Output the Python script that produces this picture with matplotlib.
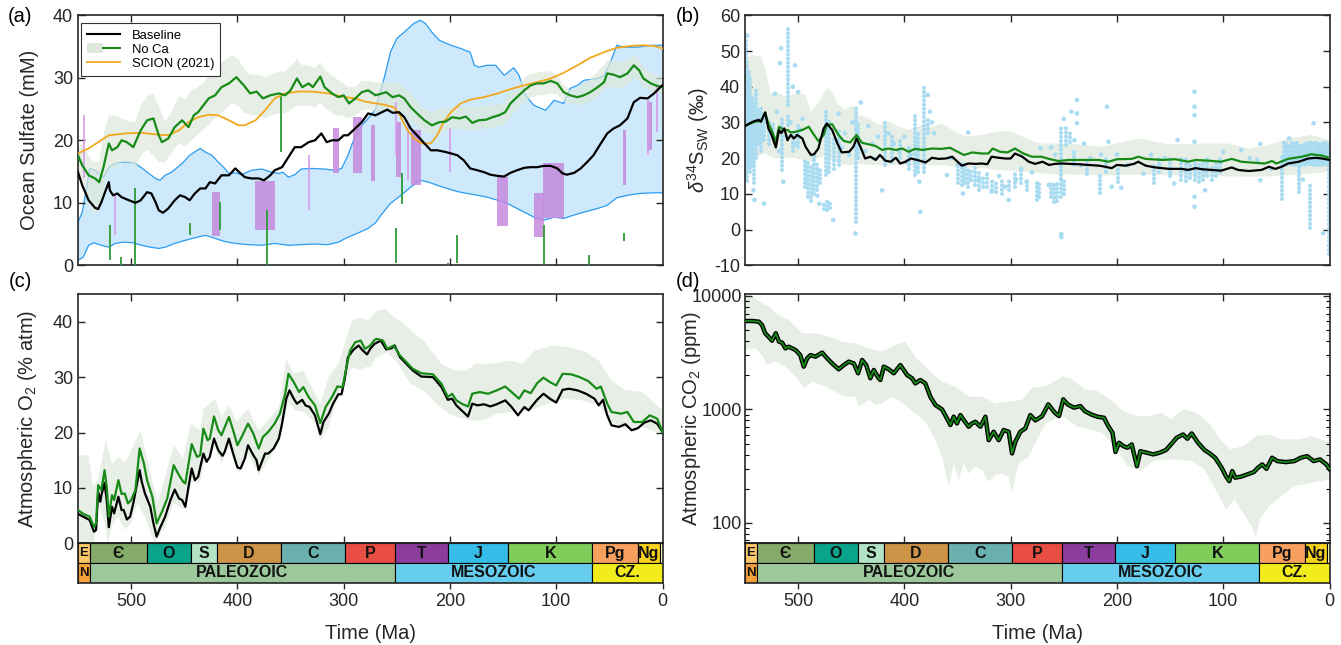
import numpy as np
import matplotlib
matplotlib.use('Agg')
import matplotlib.pyplot as plt
from matplotlib.patches import Rectangle, Patch
from matplotlib.lines import Line2D
from matplotlib.legend_handler import HandlerTuple

plt.rcParams['font.family'] = ['Liberation Sans', 'DejaVu Sans']
plt.rcParams['mathtext.fontset'] = 'custom'
plt.rcParams['mathtext.rm'] = 'Liberation Sans'
plt.rcParams['mathtext.it'] = 'Liberation Sans:italic'
plt.rcParams['axes.unicode_minus'] = False

# ---------------- (a) Ocean sulfate ----------------
sulf_base_age = [550,546,540,534,531,528,525,521,520,517,513,509,502,496,491,485,481,477,474,470,465,459,454,449,445,440,435,430,426,421,415,408,402,397,393,387,380,375,369,365,358,352,346,340,333,327,321,316,311,305,300,296,291,283,277,270,264,259,254,248,243,237,231,224,218,212,206,199,193,187,181,174,168,162,155,149,143,137,130,124,118,112,105,99,94,90,83,77,71,65,58,52,46,40,33,27,21,14,8,2,0]
sulf_base = [14.9,12.8,10.4,9.2,9.0,10.1,11.5,13.3,12.0,11.2,11.5,10.9,10.4,10.0,10.4,11.7,11.5,10.1,8.8,8.4,9.1,10.4,11.2,10.9,10.4,11.5,12.3,12.3,13.3,13.1,14.4,14.4,15.5,14.7,14.1,13.9,13.9,13.6,14.4,15.2,15.7,17.3,18.9,18.9,19.7,20.0,21.1,19.7,20.0,20.0,20.8,20.8,21.6,22.9,24.3,24.0,24.5,24.9,24.4,24.5,23.7,21.9,20.8,19.5,18.4,18.4,18.2,17.9,17.6,16.8,15.5,15.2,14.9,14.5,14.3,14.2,14.8,15.2,15.6,15.7,15.7,15.9,15.9,15.5,14.7,14.5,14.8,15.5,16.5,17.6,19.5,21.1,21.9,22.4,23.5,26.1,26.8,26.7,27.5,28.5,28.8]

sulf_noca_age = [550,546,540,534,530,526,521,518,513,509,504,498,491,485,479,474,471,465,459,452,446,441,437,432,427,421,415,408,401,394,388,382,376,369,361,355,350,344,339,333,329,322,318,311,305,300,295,289,283,277,270,260,254,248,243,237,231,224,217,210,204,198,191,185,179,173,166,160,154,148,143,137,130,124,118,112,105,99,93,87,80,74,68,61,55,52,46,40,33,27,22,18,11,5,0]
sulf_noca = [17.6,16.0,14.4,13.9,13.3,15.7,19.5,18.4,18.9,20.0,19.7,18.9,21.6,23.2,23.5,20.8,19.7,20.3,22.1,23.2,22.1,24.0,24.5,25.6,26.7,27.2,28.5,29.1,30.1,28.8,27.5,27.8,26.7,27.2,27.5,27.2,28.0,29.9,28.5,29.1,28.5,30.2,28.5,27.5,26.9,27.2,25.9,26.7,27.7,28.0,27.2,27.7,26.9,27.2,26.7,25.3,24.3,23.2,22.4,22.9,23.0,23.7,23.5,23.8,22.8,23.2,23.3,23.7,24.0,24.5,25.9,26.9,28.0,28.8,29.1,29.1,29.5,29.1,27.7,27.2,26.9,27.2,27.7,28.5,29.3,30.7,30.5,30.1,30.7,32.0,31.2,29.9,29.1,28.7,28.5]

noca_band_age = [550,546,540,535,530,526,521,515,509,502,496,491,485,479,474,468,462,455,449,443,437,430,424,418,411,405,399,394,388,380,374,368,361,355,349,344,339,333,327,322,316,308,302,296,289,283,277,270,260,250,243,237,230,224,217,210,200,190,180,170,160,150,143,136,130,124,118,112,105,99,93,87,80,74,68,61,55,52,46,40,33,27,22,18,11,5,0]
noca_band_hi = [19.0,19.5,17.5,16.5,16.5,21.0,24.0,24.0,23.5,23.0,23.0,25.5,27.0,27.5,25.5,23.0,24.5,27.0,26.5,28.0,28.5,29.5,31.0,32.0,33.0,33.6,33.0,31.5,30.5,30.5,30.0,30.5,31.0,31.0,32.0,33.0,32.0,32.0,31.5,32.5,31.0,30.0,29.3,28.5,28.5,29.5,29.5,29.3,29.3,29.3,28.5,27.5,26.0,25.0,24.5,25.0,25.3,25.6,25.3,25.5,25.6,26.0,27.5,29.0,30.0,30.6,30.9,31.0,31.0,30.3,28.8,28.0,28.3,29.0,29.8,31.0,32.0,32.8,32.8,32.5,33.0,33.6,33.0,31.8,30.8,30.4,30.4]
noca_band_lo = [14.5,12.5,10.0,8.0,9.5,12.0,15.5,15.5,16.5,16.5,15.5,17.5,18.5,17.5,16.5,16.5,18.0,19.5,19.0,20.0,21.0,22.0,23.0,24.0,25.0,26.0,25.5,24.5,24.0,24.0,23.5,24.0,24.3,24.3,25.0,25.6,25.5,25.5,25.3,26.0,25.0,24.0,24.0,23.5,24.0,24.8,25.0,24.5,24.8,24.5,24.3,23.0,22.0,21.3,20.8,21.0,21.8,21.8,21.5,21.8,22.0,22.4,23.8,25.0,26.0,26.8,27.2,27.2,27.5,27.3,26.3,25.9,25.6,25.8,26.2,27.0,28.0,28.5,28.5,28.3,28.8,30.0,29.4,28.5,27.8,27.5,27.5]

scion_age = [550,540,531,521,505,490,474,465,455,446,437,427,418,408,399,393,383,374,365,355,343,330,314,302,289,280,270,262,253,247,241,234,226,218,212,206,199,190,181,168,155,143,130,118,105,93,80,68,55,43,30,18,8,0]
scion = [17.9,18.7,19.7,20.8,21.1,21.2,20.9,20.8,21.6,22.9,23.7,24.1,24.0,23.2,22.4,22.4,23.2,24.8,26.7,27.5,27.8,27.8,27.5,27.0,26.7,26.2,25.9,25.7,25.3,24.0,21.9,20.3,19.5,19.5,20.8,22.9,24.5,25.9,26.5,26.9,27.5,28.2,28.8,29.3,29.9,30.8,32.0,33.2,34.1,34.8,35.1,35.2,35.1,34.7]

proxy_hi_age = [550,546,542,539,534,526,521,515,509,502,496,491,485,477,473,468,462,452,445,435,430,424,418,413,408,402,396,387,377,368,361,357,352,346,340,330,318,308,302,296,289,283,277,270,262,256,250,243,234,228,223,217,210,199,190,181,177,173,165,157,149,140,135,129,121,110,102,93,87,80,74,61,55,49,43,36,24,11,0]
proxy_hi = [6.9,8.5,12.3,15.5,15.2,14.1,15.7,16.3,16.5,16.5,16.3,15.7,14.9,13.9,13.6,14.4,14.9,16.3,17.6,18.7,18.1,17.6,16.5,15.7,14.7,14.8,14.5,15.2,15.4,14.9,14.7,14.9,14.1,14.5,15.4,15.5,15.4,15.2,15.5,17.6,20.8,22.4,23.5,25.0,29.9,34.1,36.3,37.3,38.7,39.2,38.7,37.3,36.0,35.2,34.7,34.1,32.0,31.7,32.0,32.0,30.4,31.6,30.4,27.2,25.6,24.8,26.4,25.9,28.3,28.8,29.6,29.9,30.4,32.5,35.2,34.9,34.9,35.2,35.2]
proxy_lo_age = [550,545,540,535,528,521,515,507,498,490,482,474,468,459,449,440,430,421,412,402,390,377,365,352,340,327,315,305,296,286,277,270,265,256,246,237,228,220,212,203,193,184,174,165,155,146,137,130,121,112,102,93,84,74,61,52,43,33,21,8,0]
proxy_lo = [0.8,1.3,3.2,3.6,3.2,2.9,3.5,3.7,3.6,3.2,2.9,2.7,2.9,3.5,4.0,4.4,4.8,4.3,3.8,3.5,3.3,3.2,3.5,3.2,3.3,3.4,3.3,3.7,4.5,5.2,5.9,6.8,8.0,9.9,11.2,12.5,13.6,13.3,12.8,12.3,11.8,11.5,11.2,10.9,10.4,9.9,9.1,8.5,7.7,7.2,7.7,7.5,8.0,8.5,9.1,9.6,10.8,11.2,11.5,11.6,11.6]

fi_old = [423.5,383.4,309.7,291.0,274.6,251.0,237.0,156.0,121.0,112.5,37.0,14.4]
fi_young = [416.3,364.6,304.4,282.5,270.8,246.0,227.6,145.0,111.6,92.8,34.0,9.7]
fi_lo = [4.7,5.7,14.8,14.8,13.5,14.1,12.9,6.3,4.5,7.6,12.9,18.4]
fi_hi = [11.8,13.5,21.9,23.7,22.4,23.0,21.7,14.1,11.5,16.3,21.7,26.1]
fi_thin_age = [544,515,333,251,239.5,200,14,5.6]
fi_thin_lo = [13.9,4.8,8.8,17.6,13.6,14.9,17.6,21.3]
fi_thin_hi = [24.0,11.2,17.6,26.1,22.4,21.9,26.4,29.0]
evap_age = [520,510,496,445,416,372,359,251,245,201.6,193,111.6,69.3,36.4]
evap_lo = [0.8,0.0,0.0,4.8,5.6,0.0,18.2,0.3,9.8,0.0,0.4,0.0,0.0,3.9]
evap_hi = [6.4,1.3,12.3,6.8,10.1,8.8,27.2,5.9,14.8,0.4,4.8,6.5,1.6,5.2]

# ---------------- (b) d34S ----------------
d34_base_age = [550,546,541,537,535,531,528,525,521,518,516,513,510,507,504,501,496,493,488,485,481,476,473,468,463,459,452,448,445,441,437,432,427,423,418,413,408,404,399,394,388,380,374,368,361,355,350,346,340,333,327,322,318,311,305,300,296,289,283,277,270,264,258,252,245,236,227,217,211,205,200,192,184,180,173,164,151,139,133,126,120,111,102,92,86,76,64,57,51,45,39,29,20,13,7,0]
d34_base = [29.0,29.7,30.4,30.7,30.2,32.8,28.3,26.5,23.0,27.9,27.0,28.3,25.0,26.5,25.5,26.5,25.5,23.2,20.9,21.1,22.7,28.3,29.7,27.9,24.1,21.6,21.8,23.2,25.5,22.9,19.9,20.4,19.5,20.9,19.3,19.0,20.1,18.5,19.0,19.9,19.5,18.8,20.1,19.8,19.9,20.4,19.0,17.9,18.5,18.4,18.5,18.3,20.4,20.1,19.9,19.9,21.3,20.4,19.0,18.4,19.0,18.1,18.4,18.5,18.4,18.3,18.1,17.9,17.6,17.2,18.1,17.9,18.4,19.0,17.9,17.4,17.0,17.0,16.7,17.2,16.9,16.7,16.5,17.4,16.7,16.4,16.7,17.6,17.0,17.6,18.5,19.0,19.9,20.1,19.9,19.5]
d34_noca_age = [550,541,535,531,528,525,521,518,513,510,507,502,496,490,485,481,476,473,468,462,457,451,445,440,434,427,421,415,408,402,396,390,383,374,365,357,350,344,336,327,321,317,310,303,296,288,280,271,264,255,245,230,217,208,200,186,180,173,157,145,133,126,114,102,92,83,70,61,54,50,39,26,17,7,0]
d34_noca = [29.0,30.2,30.4,32.8,29.7,27.9,24.6,28.8,27.9,27.9,27.2,27.4,27.9,28.8,26.5,24.8,26.5,29.3,29.5,26.5,24.8,24.4,26.5,24.3,23.9,23.4,22.3,22.7,22.3,22.7,21.8,22.6,22.3,22.7,22.6,22.9,21.8,20.9,21.6,21.3,21.3,22.7,21.8,21.6,22.7,21.3,20.4,20.4,19.8,19.2,19.5,19.5,19.5,19.0,19.7,19.8,20.4,19.8,19.5,19.7,19.0,19.5,19.3,19.0,19.8,19.0,18.7,18.5,19.2,18.5,19.8,20.4,21.1,20.7,20.1]
d34_band_age = [550,543,535,531,526,521,512,502,493,488,481,473,468,462,456,449,443,434,424,415,405,396,383,374,365,352,340,327,314,302,292,283,271,245,214,180,151,120,95,76,57,39,17,0]
d34_band_hi = [48.0,48.9,48.4,45.2,38.2,38.6,37.2,38.2,37.7,33.0,35.4,39.6,38.6,34.9,33.5,34.9,32.1,31.2,29.3,30.2,28.8,27.9,29.3,28.8,29.7,27.4,26.0,26.5,27.4,27.6,26.5,25.1,24.1,24.1,23.2,25.5,23.9,24.1,24.1,22.7,23.7,25.5,26.5,25.1]
d34_band_lo = [18.5,19.5,20.9,21.3,20.5,19.9,20.2,20.0,19.2,19.0,20.0,20.9,19.5,18.5,18.1,18.2,18.3,18.1,18.1,18.1,18.1,18.1,17.9,18.0,18.1,17.6,17.3,17.2,16.8,16.5,16.3,16.2,15.7,15.4,15.2,15.4,15.2,15.0,14.9,14.8,14.9,15.2,15.7,16.2]

# measured seawater d34S: densely sampled columns (age, min, max) ...
obs_columns = [
    (549.5, 14, 54), (548, 13.5, 47), (546.5, 17, 45), (545, 16, 43), (543.5, 18, 38),
    (542, 13, 36), (540, 20, 39), (538, 24, 34), (535, 22, 34), (532, 25, 33), (527, 24, 31),
    (524, 27, 30), (515, 16.7, 31), (509.7, 35, 56.4), (509.7, 29.3, 32), (505, 22, 28),
    (500, 23, 30), (494, 12, 20), (491, 9, 19), (488, 8, 18), (485, 10, 20), (482, 11, 19),
    (479, 13, 17), (476, 5.8, 7.8), (473, 5.5, 8), (470, 6, 7.5), (474, 15.3, 34),
    (470.5, 16, 31), (466, 17, 26), (462, 18, 28), (446, 2.2, 34.9), (444, 20, 30),
    (418, 18, 30), (412, 19, 27), (404, 20, 26), (396, 17, 24), (390, 15.3, 32),
    (387.5, 16, 28), (381.5, 16.2, 40), (378, 27, 31), (350, 13, 19), (346, 12.5, 19),
    (343, 13, 18), (340, 12, 17), (337, 14, 17), (334, 12.5, 17.5), (330, 11, 16),
    (326, 12, 15), (322, 12, 15.5), (318, 11, 14), (314, 10.5, 13.5), (308, 10, 13.5),
    (302, 11, 14), (296, 12, 16), (290, 13, 17), (285, 11, 14), (275.3, 8.3, 13.4),
    (273, 9, 13), (262, 9, 13), (259, 7.8, 13), (256, 8, 14), (253, 9, 14.3), (250, 10, 14),
    (252.4, 14.3, 28.8), (248, 23.7, 28.5), (244, 24.5, 27), (240, 18, 22), (228, 15.7, 19.5),
    (215.7, 10.2, 15.3), (210, 16, 20), (199, 13.4, 17.1), (165, 13, 19), (160, 16, 20),
    (150, 15, 20), (140, 14, 21), (135, 13.5, 20), (131, 14.5, 19), (127, 14, 19.5),
    (123, 13.4, 19), (119, 14, 19.5), (115, 15, 20), (111, 14, 18), (107, 15, 19.5),
    (103, 16, 20), (45, 8.7, 21), (43, 18.5, 24.6), (41, 18.1, 24.2), (39, 18.6, 24.6),
    (37, 18.3, 24.0), (35, 18.5, 24.6), (33, 18.1, 24.3), (31, 18.4, 24.5), (29, 10.6, 24.6),
    (27, 18.2, 24.1), (25, 18.6, 24.6), (23, 18.1, 24.4), (21, 18.8, 24.6), (19, 18.3, 24.8),
    (17, 18.5, 24.4), (15, 18.1, 24.6), (13, 18.4, 25.0), (11, 18.2, 24.6), (9, 18.6, 24.3),
    (7, 18.1, 24.6), (5, 18.5, 24.8), (3, 18.3, 24.6), (1, 18.1, 24.5), (29, 10.6, 17),
    (18, 0.4, 12.9), (0.5, -6.7, 24.6)]
# ... and single points
obs_pt_age = [548,542,541,532,522,520,518,516,517,514,511,507,505,503,502,500,498,496,485,482,480,467,462,459,456,452,449,446,441,437,434,430,428,425,421,415,410,405,400,398,394,386,385,378,376,374,372,360,356,350,345,340,330,318,311,305,302,295,290,285,280,272,264,262,258,252.4,252.4,250,243,240,237.6,237.6,237.6,234,231,225,215,209.4,208,205,200,196,190,175,168,160,155,150,146,143,127,127,127,127,127,127,117,100,83,75,68,65,65,55,38,15,6,10,25]
obs_pt_val = [54.3,11,8.3,7.3,38,33,22,50.8,46.6,13.4,26,30,40,46,24,38.5,28,31,20.5,9.5,7.2,2.7,32.5,23,27,21,30,-1.1,35.6,22,29,24,20,26,11,27,24,22,26,19,21,13.4,5,37.7,33,30,27,15.3,20,18,10.1,27.2,14,10.6,15,12,8.3,14,17,13.4,16,22.7,12.5,23,21,-1.3,-2.1,31,33,25,36.3,32.5,29.8,18,24.1,20,21,34.4,24.6,12,21,11.7,18,15.7,20.9,18,20,16,12.9,25.1,38.6,34.4,32,24.6,9.2,6.4,11,21.8,22.3,20,19.5,24,13.8,17,25.5,29.8,-1,21,14]

# ---------------- (c) O2 ----------------
o2_base_age = [550,545,539,535,533,531,529,528,525,523,521,518,516,512,509,507,504,501,498,492,490,487,482,479,476,473,468,463,459,455,452,449,446,443,440,437,432,429,426,422,418,414,412,408,404,400,397,393,390,385,382,380,377,374,371,366,361,358,354,351,347,344,339,336,332,327,322,319,314,310,305,302,299,296,291,286,282,278,275,271,265,260,255,252,247,241,235,227,216,208,202,198,194,188,183,179,174,168,162,156,148,142,136,130,126,118,112,106,100,94,88,80,72,64,60,56,52,48,41,35,29,23,17,11,5,0]
o2_base = [5.3,4.8,4.2,2.1,2.4,9.3,7.5,8.7,10.9,7.8,2.9,6.6,5.4,8.4,6.0,6.0,4.3,4.8,7.2,13.2,11.1,9.0,6.6,3.6,1.2,2.7,4.8,7.8,9.7,8.1,7.8,6.6,10.2,13.5,11.4,12.0,16.2,14.7,15.6,18.9,16.8,15.8,16.5,18.9,16.2,13.7,13.5,15.3,17.7,15.9,15.0,13.2,14.7,16.2,16.2,17.1,18.9,21.6,26.1,27.6,26.1,25.2,25.9,24.9,24.6,23.1,19.7,21.9,23.4,25.2,26.9,26.9,29.7,33.6,34.9,35.7,34.8,34.1,35.1,36.0,36.6,35.0,35.2,35.7,33.6,32.4,31.2,30.1,30.0,28.2,25.9,26.1,24.9,23.8,22.9,25.2,24.9,25.1,24.7,25.1,25.8,24.6,23.1,24.6,24.0,25.9,27.0,26.1,25.4,27.7,27.9,27.6,27.0,26.1,24.9,25.9,23.1,21.3,21.0,21.5,20.4,20.8,21.8,22.2,21.6,20.1]
o2_noca_age = [550,545,539,535,533,531,528,525,523,521,518,516,512,509,506,503,500,496,492,488,485,480,476,471,466,460,455,451,449,443,438,435,432,428,426,422,418,415,408,404,400,396,390,385,380,376,371,365,360,355,352,347,342,338,333,327,322,317,311,306,301,298,294,289,284,280,275,271,269,263,259,253,247,241,235,227,216,208,202,198,194,188,183,179,172,164,156,148,142,135,130,124,118,112,106,100,94,86,78,70,62,58,52,48,39,33,27,19,12,5,0]
o2_noca = [6.0,5.3,4.8,3.0,3.6,10.5,9.6,13.2,10.2,4.8,8.7,7.8,11.4,8.9,9.0,7.2,7.8,9.6,17.1,14.4,11.4,8.4,3.6,5.7,8.1,14.1,12.3,11.1,10.8,17.9,15.6,15.9,20.7,18.6,18.9,22.9,20.4,19.5,22.8,20.4,17.7,19.2,21.6,19.8,17.1,19.2,20.1,21.6,23.4,27.0,30.6,29.1,27.3,28.2,26.4,24.9,21.7,24.6,26.4,28.3,28.2,31.2,34.8,36.3,36.6,35.1,35.7,36.7,36.9,36.6,35.1,35.7,33.9,32.7,31.5,30.7,30.5,28.8,26.4,27.0,25.8,25.1,24.7,27.0,27.3,27.0,27.6,28.3,27.3,26.1,27.6,27.1,28.9,29.9,29.1,28.5,30.6,30.5,30.0,29.3,27.9,28.3,25.2,23.7,23.4,23.7,21.9,21.9,23.1,22.5,20.1]
o2_band_hi_age = [550,540,536,531,524,518,512,506,494,491,484,475,468,460,451,444,435,432,421,415,408,401,390,380,371,361,354,347,338,330,322,314,305,299,292,284,277,271,269,261,253,245,237,225,208,196,184,176,160,144,132,120,104,88,72,60,48,35,19,0]
o2_band_hi = [15.9,15.9,10.2,11.4,18.6,14.4,15.6,14.4,19.2,20.4,14.4,7.2,12.0,17.7,15.3,21.6,20.4,24.3,26.1,22.8,24.9,21.9,24.3,20.4,22.2,24.6,33.3,30.6,31.2,28.2,25.2,30.0,32.4,36.0,40.2,40.8,40.2,41.5,42.0,42.3,40.8,39.9,38.4,36.6,32.4,31.2,31.2,32.4,32.4,33.0,32.4,34.8,35.7,35.4,34.5,33.0,29.4,27.6,27.3,24.0]
o2_band_lo_age = [550,535,531,525,522,517,512,506,500,494,487,478,468,460,449,443,435,432,421,415,408,399,390,380,371,361,352,346,337,327,322,314,305,299,292,284,279,274,271,269,259,249,237,225,213,201,193,181,169,156,140,124,108,92,76,60,48,36,20,0]
o2_band_lo = [0.0,0.0,7.2,3.6,0.0,3.6,4.8,2.4,3.6,7.2,4.8,0.0,3.0,7.2,6.0,11.1,10.8,14.1,17.4,14.4,17.4,12.6,16.2,12.3,15.0,18.0,25.5,24.0,23.7,21.6,18.6,21.0,27.0,29.4,31.8,31.2,31.8,31.8,33.3,33.6,34.5,32.4,28.8,27.6,25.2,23.4,22.8,22.2,22.2,23.4,23.7,24.0,25.2,26.1,25.8,24.9,21.9,20.7,21.0,19.8]

# ---------------- (d) CO2 ----------------
co2_age = [549.5,543,537,534,531,528,524.5,521,518,515,512,509,502.5,498,494.7,491.5,488.4,483.7,477.4,472.7,468,461.8,457,452.4,447.6,443.6,439.8,436,432,428.8,424.8,422.6,419.4,414.7,410,403.8,397.5,392.8,389.7,385,380.3,375.6,370.8,364.6,360,356.7,353.6,350.5,347.3,344.2,339.5,336.4,333.2,328.5,323.8,320.7,316,311.3,306.6,301.9,298.7,295.6,290.9,286.2,281.5,276.8,270.5,264.6,258.5,254.5,250.5,246.5,240.4,234.4,230.4,224.3,218.3,212.2,208.2,204.2,201.4,198.1,194.1,190.1,186.1,181.2,178,172,165.9,159.9,153.9,147.8,143.8,137.8,133.7,129.7,123.7,117.6,113.6,107.6,101.5,97.5,94.3,91.5,88.7,83.4,77.4,71.3,67.3,63.3,59.3,54,49.2,41.1,33.1,27,21,15,8.9,2.9,0]
co2 = [6010,6010,5930,5550,4690,4380,4030,4690,3950,3870,3450,3570,3340,3010,2380,2820,3010,2915,3165,2820,2545,2255,2460,2635,2545,2080,2725,2460,1880,2225,1915,1815,2380,2255,2080,2460,2010,1880,1695,1815,1695,1294,1092,1000,833,728,862,752,891,805,703,752,778,703,862,535,635,535,658,635,409,519,635,680,891,800,870,1107,935,873,1225,1107,1035,1070,967,903,861,844,713,623,421,508,475,459,491,316,428,415,401,415,438,508,562,601,551,614,508,438,415,375,306,258,233,286,250,255,267,280,306,327,299,375,350,343,350,375,387,350,362,327,299]
co2_hi_age = [549.5,543.3,533.9,527.6,521.3,508.8,496.2,483.7,471.2,458.6,446.1,433.5,421,408.5,399.1,389.7,377.1,364.6,352,339.5,327,314.4,301.9,289.3,279.9,266.6,250.5,242.4,230.4,218.3,206.2,194.1,182,170,157.9,149.8,137.8,125.7,113.6,101.5,93.5,81.4,69.3,57.2,45.1,29.1,17,0]
co2_hi = [10200,9900,8600,8050,7030,6140,4690,4690,4380,3950,3820,3450,3230,3700,3950,2915,2225,1755,1585,1294,1294,1130,1170,1210,1550,1606,1968,1842,1500,1452,1225,967,873,873,935,816,1000,935,763,526,444,475,582,601,544,544,582,508]
co2_lo_age = [549.5,540,533.9,529.2,521.3,511.9,502.5,494.7,486.8,474.3,464.9,455.5,446.1,443,433.5,427.3,421,411.6,402.2,395.9,389.7,380.3,372.4,364.6,358.3,353.6,348.9,344.2,339.5,333.2,327,320.7,314.4,308.2,301.9,298.7,292.5,283.1,277,266.6,250.5,238.4,226.3,214.2,202.1,190.1,178,165.9,153.9,141.8,129.7,117.6,105.6,97.5,89.5,81.4,73.4,69.3,65.3,57.2,45.1,33.1,17,0]
co2_lo = [3340,3450,3010,2460,2635,2380,1940,1530,1755,1585,1430,1294,1294,1055,1210,1092,1130,1294,1150,1020,922,778,574,382,208,334,238,334,272,312,292,230,264,272,255,188,334,382,500,763,873,713,667,623,475,316,286,350,362,362,350,296,184,131,161,122,94,74,107,140,172,211,225,241]

# ---------------- Geologic timescale ----------------
period_name = ['E', 'Є', 'O', 'S', 'D', 'C', 'P', 'T', 'J', 'K', 'Pg', 'Ng', '']
period_start = [550, 538.8, 485.4, 443.8, 419.2, 358.9, 298.9, 251.9, 201.4, 145.0, 66.0, 23.03, 2.58]
period_end = [538.8, 485.4, 443.8, 419.2, 358.9, 298.9, 251.9, 201.4, 145.0, 66.0, 23.03, 2.58, 0]
period_color = ['#fdca6a', '#85ab6a', '#0aa48b', '#b3e3c5', '#cd9447', '#6ab0ac', '#e94e45',
                '#8a3d9c', '#35bde8', '#80cd5c', '#f8a05e', '#f9d31b', '#fbf7c0']
era_name = ['N', 'PALEOZOIC', 'MESOZOIC', 'CZ.']
era_start = [550, 538.8, 251.9, 66.0]
era_end = [538.8, 251.9, 66.0, 0]
era_color = ['#f5a13a', '#9cc89b', '#66cdee', '#f2ec1c']

# ---------------- figure ----------------
W, H = 1341, 645
fig = plt.figure(figsize=(W / 100, H / 100), dpi=100)


def box(l, r, t, b):
    return [l / W, 1 - b / H, (r - l) / W, (b - t) / H]


axA = fig.add_axes(box(78, 662.5, 15.3, 265.3))
axB = fig.add_axes(box(745, 1329.5, 15.3, 265.3))
axC = fig.add_axes(box(78, 662.5, 294, 543.3))
axD = fig.add_axes(box(745, 1329.5, 294, 543.3))
tsC = fig.add_axes(box(78, 662.5, 543.3, 582.7))
tsD = fig.add_axes(box(745, 1329.5, 543.3, 582.7))

AX = '#262626'
GREEN = '#178a17'
BANDC = '#dde8da'
TICK_FS = 13
LAB_FS = 14.5
YLAB_L = -0.066


def style(ax):
    ax.set_xlim(550, 0)
    ax.set_xticks([500, 400, 300, 200, 100])
    ax.tick_params(direction='in', length=5, width=1.0, top=True, right=True,
                   labelsize=TICK_FS, colors=AX, labelbottom=False)
    ax.tick_params(which='minor', direction='in', length=3, width=0.8, top=False, right=True)
    for s in ax.spines.values():
        s.set_linewidth(1.2)
        s.set_color(AX)


# (a)
ax = axA
style(ax)
ax.fill(list(proxy_hi_age) + list(proxy_lo_age[::-1]), list(proxy_hi) + list(proxy_lo[::-1]),
        facecolor='#cde9fb', edgecolor='none', zorder=1)
ax.plot(proxy_hi_age, proxy_hi, color='#2b9cf2', lw=0.9, zorder=1.5)
ax.plot(proxy_lo_age, proxy_lo, color='#2b9cf2', lw=0.9, zorder=1.5)
ax.fill(list(noca_band_age) + list(noca_band_age[::-1]), list(noca_band_hi) + list(noca_band_lo[::-1]),
        facecolor=BANDC, edgecolor='none', alpha=0.7, zorder=2)
for o, y_, lo, hi in zip(fi_old, fi_young, fi_lo, fi_hi):
    ax.add_patch(Rectangle((y_, lo), o - y_, hi - lo, facecolor='#c78ade', alpha=0.85,
                           edgecolor='none', zorder=3))
ax.vlines(fi_thin_age, fi_thin_lo, fi_thin_hi, color='#d59ceb', lw=1.2, zorder=3)
ax.vlines(evap_age, evap_lo, evap_hi, color='#2e9a35', lw=1.3, zorder=3.2)
ax.plot(scion_age, scion, color='#f2a81c', lw=1.3, zorder=4)
ax.plot(sulf_noca_age, sulf_noca, color=GREEN, lw=1.6, zorder=5)
ax.plot(sulf_base_age, sulf_base, color='black', lw=1.6, zorder=6)
ax.set_ylim(0, 40)
ax.set_yticks([0, 10, 20, 30, 40])
ax.set_ylabel('Ocean Sulfate (mM)', fontsize=LAB_FS, color=AX)
ax.yaxis.set_label_coords(YLAB_L, 0.5)
h_base = Line2D([], [], color='black', lw=1.5)
h_noca = (Patch(facecolor=BANDC, edgecolor='none'), Line2D([], [], color=GREEN, lw=1.5))
h_scion = Line2D([], [], color='#f2a81c', lw=1.3)
leg = ax.legend([h_base, h_noca, h_scion], ['Baseline', 'No Ca', 'SCION (2021)'],
                handler_map={tuple: HandlerTuple(ndivide=None, pad=0)},
                loc='upper left', bbox_to_anchor=(0.0056, 0.968), borderaxespad=0,
                fontsize=9.4, handlelength=2.5, handleheight=0.8, handletextpad=0.9,
                labelspacing=0.12, fancybox=False, framealpha=1, edgecolor='#333333',
                borderpad=0.45)
leg.get_frame().set_linewidth(0.8)
leg.set_zorder(10)

# (b)
ax = axB
style(ax)
ax.fill(list(d34_band_age) + list(d34_band_age[::-1]), list(d34_band_hi) + list(d34_band_lo[::-1]),
        facecolor=BANDC, edgecolor='none', alpha=0.7, zorder=1)
OBS = '#a9dcf1'
col_age = [c[0] for c in obs_columns]
col_lo = [c[1] for c in obs_columns]
col_hi = [c[2] for c in obs_columns]
lc = ax.vlines(col_age, col_lo, col_hi, color=OBS, lw=3.0, zorder=2,
               linestyles=[(0, (0.01, 1.0))])
lc.set_capstyle('round')
ax.scatter(obs_pt_age, obs_pt_val, s=11, color=OBS, edgecolors='none', zorder=2)
ax.plot(d34_noca_age, d34_noca, color=GREEN, lw=1.6, zorder=5)
ax.plot(d34_base_age, d34_base, color='black', lw=1.6, zorder=6)
ax.set_ylim(-10, 60)
ax.set_yticks(range(-10, 61, 10))
ax.set_ylabel(r'$\delta^{34}$S$_{\rm SW}$ (‰)', fontsize=LAB_FS, color=AX)
ax.yaxis.set_label_coords(-0.058, 0.5)

# (c)
ax = axC
style(ax)
ax.fill(list(o2_band_hi_age) + list(o2_band_lo_age[::-1]), list(o2_band_hi) + list(o2_band_lo[::-1]),
        facecolor=BANDC, edgecolor='none', alpha=0.7, zorder=1)
ax.plot(o2_noca_age, o2_noca, color=GREEN, lw=1.6, zorder=5)
ax.plot(o2_base_age, o2_base, color='black', lw=1.6, zorder=4)
ax.set_ylim(0, 45)
ax.set_yticks([0, 10, 20, 30, 40])
ax.set_ylabel(r'Atmospheric O$_2$ (% atm)', fontsize=LAB_FS, color=AX)
ax.yaxis.set_label_coords(YLAB_L, 0.5)

# (d)
ax = axD
style(ax)
ax.set_yscale('log')
ax.fill(list(co2_hi_age) + list(co2_lo_age[::-1]), list(co2_hi) + list(co2_lo[::-1]),
        facecolor=BANDC, edgecolor='none', alpha=0.7, zorder=1)
ax.plot(co2_age, co2, color='black', lw=3.2, zorder=4, solid_joinstyle='round')
ax.plot(co2_age, co2, color=GREEN, lw=1.3, zorder=5, solid_joinstyle='round')
ax.set_ylim(66, 10400)
ax.set_yticks([100, 1000, 10000])
ax.set_yticklabels(['100', '1000', '10000'])
ax.tick_params(axis='y', which='major', pad=2)
ax.tick_params(which='minor', direction='in', length=3, width=0.8, left=True, right=True,
               top=False, bottom=False)
ax.set_ylabel(r'Atmospheric CO$_2$ (ppm)', fontsize=LAB_FS, color=AX)
ax.yaxis.set_label_coords(-0.072, 0.5)


def timescale(ts):
    ts.set_xlim(550, 0)
    ts.set_ylim(0, 2)
    for nm, a0, a1, c in zip(period_name, period_start, period_end, period_color):
        ts.add_patch(Rectangle((a1, 1), a0 - a1, 1, facecolor=c, edgecolor='black', lw=0.8))
        if nm:
            fs = 9.5 if nm == 'E' else 11.5
            ts.text((a0 + a1) / 2, 1.5, nm, ha='center', va='center', fontsize=fs,
                    fontweight='bold', color='#111111')
    for nm, a0, a1, c in zip(era_name, era_start, era_end, era_color):
        ts.add_patch(Rectangle((a1, 0), a0 - a1, 1, facecolor=c, edgecolor='black', lw=0.8))
        fs = 9.5 if nm == 'N' else 11.5
        ts.text((a0 + a1) / 2, 0.5, nm, ha='center', va='center', fontsize=fs,
                fontweight='bold', color='#111111')
    ts.set_xticks([500, 400, 300, 200, 100, 0])
    ts.set_xticklabels(['500', '400', '300', '200', '100', '0'])
    ts.set_yticks([])
    ts.tick_params(axis='x', direction='out', length=4.5, width=1.0, top=False,
                   labelsize=TICK_FS, colors=AX, pad=3)
    for s in ts.spines.values():
        s.set_linewidth(1.2)
        s.set_color(AX)
    ts.set_xlabel('Time (Ma)', fontsize=LAB_FS, color=AX, labelpad=10)


timescale(tsC)
timescale(tsD)

for txt, px, py in [('(a)', 20, 17), ('(b)', 688, 17), ('(c)', 20, 281), ('(d)', 688, 281)]:
    fig.text(px / W, 1 - py / H, txt, ha='center', va='center', fontsize=LAB_FS, color='black')

fig.savefig('out.png', dpi=100)
